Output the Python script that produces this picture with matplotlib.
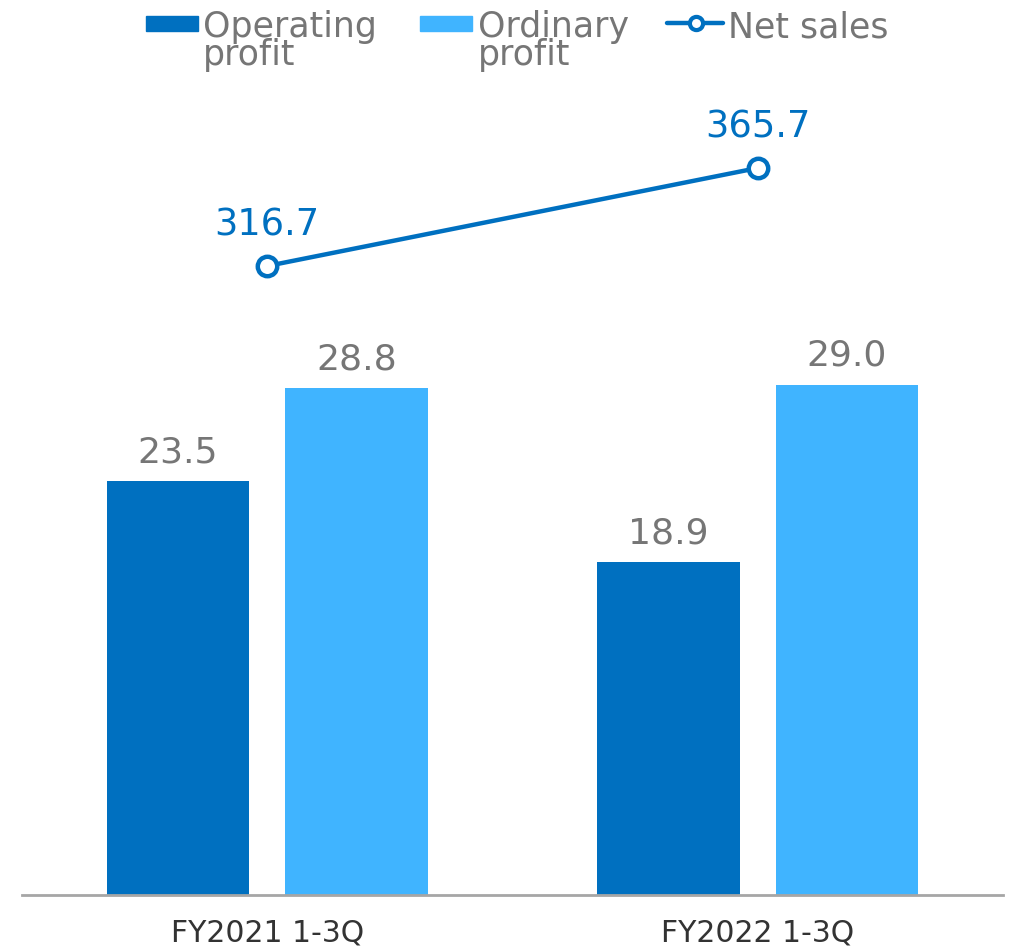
import matplotlib
matplotlib.use("Agg")
import matplotlib.pyplot as plt
from matplotlib.patches import Rectangle
from matplotlib.lines import Line2D
import numpy as np

categories = ["FY2021 1-3Q", "FY2022 1-3Q"]
operating_profit = [23.5, 18.9]
ordinary_profit = [28.8, 29.0]
net_sales = [316.7, 365.7]
legend_labels = ["Operating\nprofit", "Ordinary\nprofit", "Net sales"]

DARK = "#0070C0"
LIGHT = "#40B4FF"
GRAY = "#767676"

W, H = 1010, 947
fig = plt.figure(figsize=(W / 100, H / 100), dpi=100)
ax = fig.add_axes([22 / W, 52 / H, (1003 - 22) / W, (895 - 100) / H])
ax2 = ax.twinx()

x = np.arange(len(categories))
bw = 0.29
off = 0.182
b1 = ax.bar(x - off, operating_profit, bw, color=DARK, zorder=2)
b2 = ax.bar(x + off, ordinary_profit, bw, color=LIGHT, zorder=2)
ax.set_xlim(-0.5, 1.5)
ax.set_ylim(0, 795 / 17.6)
ax2.set_ylim(2.2, 2.2 + 795 / 2.0)

ax2.plot(x, net_sales, color=DARK, lw=3.2, marker="o", ms=14, mfc="white",
         mec=DARK, mew=3.2, zorder=3)

for rects, vals in ((b1, operating_profit), (b2, ordinary_profit)):
    for r, v in zip(rects, vals):
        ax.annotate(f"{v:.1f}", (r.get_x() + r.get_width() / 2, v),
                    xytext=(0, 13.7), textcoords="offset points",
                    ha="center", va="baseline", fontsize=26, color=GRAY)
for xi, v in zip(x, net_sales):
    ax2.annotate(f"{v:.1f}", (xi, v), xytext=(0, 22.3), textcoords="offset points",
                 ha="center", va="baseline", fontsize=26.5, color=DARK)

for a in (ax, ax2):
    for s in ("top", "right", "left"):
        a.spines[s].set_visible(False)
    a.set_yticks([])
ax.spines["bottom"].set_color("#A6A6A6")
ax.spines["bottom"].set_linewidth(2)
ax2.spines["bottom"].set_visible(False)
ax.set_xticks(x)
ax.set_xticklabels(categories, fontsize=21.5, color="#333333")
ax.tick_params(axis="x", length=0, pad=17)

# legend (figure pixel coordinates)
def fx(px):
    return px / W
def fy(py):
    return 1 - py / H

fig.add_artist(Rectangle((fx(146), fy(31)), 52 / W, 15 / H, transform=fig.transFigure,
                         color=DARK))
fig.add_artist(Rectangle((fx(420), fy(31)), 52 / W, 15 / H, transform=fig.transFigure,
                         color=LIGHT))
fig.add_artist(Line2D([fx(667), fx(723)], [fy(23), fy(23)], transform=fig.transFigure,
                      color=DARK, lw=3.2, solid_capstyle="round"))
fig.add_artist(Line2D([fx(696)], [fy(23)], transform=fig.transFigure, color=DARK,
                      marker="o", ms=9.5, mfc="white", mec=DARK, mew=3))
for xpos, lab in zip([203, 478, 728], legend_labels):
    fig.text(fx(xpos), fy(10), lab, fontsize=25, color=GRAY, ha="left", va="top",
             linespacing=0.78)

fig.savefig("out.png", dpi=100)
